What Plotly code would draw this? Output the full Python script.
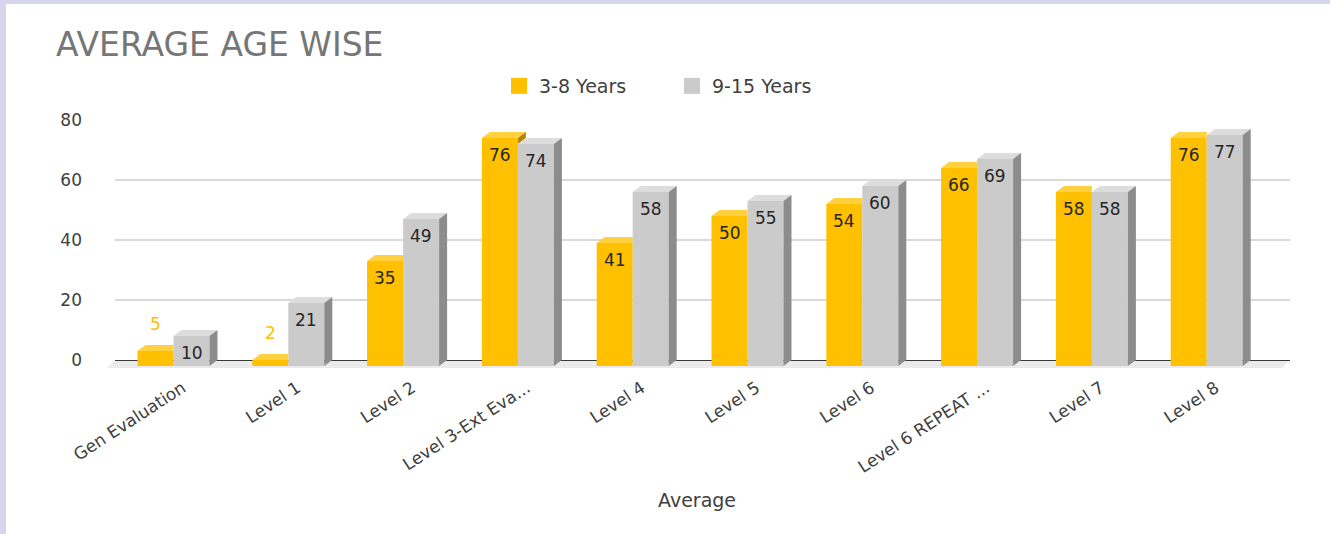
import plotly.graph_objects as go

# ---------------- data ----------------
categories = ["Gen Evaluation", "Level 1", "Level 2", "Level 3-Ext Eva...", "Level 4",
              "Level 5", "Level 6", "Level 6 REPEAT ...", "Level 7", "Level 8"]
series_names = ["3-8 Years", "9-15 Years"]
young = [5, 2, 35, 76, 41, 50, 54, 66, 58, 76]
older = [10, 21, 49, 74, 58, 55, 60, 69, 58, 77]
y_ticks = [0, 20, 40, 60, 80]

# ---------------- style / geometry ----------------
W, H = 1330, 534
PL, PR, PT, PB = 115, 1290, 120, 366          # plot area in pixels
X0PX, XSTEP = 173.5, 114.8                     # pixel of category 0, pixels per category
PXY = 3.0                                      # pixels per y unit
BW = 36 / XSTEP                                # bar width (x units)
D = 8 / XSTEP                                  # 3D depth (x units)
O = 6 / PXY                                    # 3D depth (y units)
YMAX = (PB - PT) / PXY

FONT = "DejaVu Sans"
TXT = "#404040"
Y_FRONT, Y_TOP, Y_SIDE = "#FFC000", "#FFD040", "#B38600"
G_FRONT, G_TOP, G_SIDE = "#CBCBCB", "#DDDDDD", "#8C8C8C"

idx = list(range(len(categories)))


def px_x(p):
    return (p - PL) / (PR - PL)


def px_y(p):
    return (PB - p) / (PB - PT)


fig = go.Figure()

# front faces (real bars)
fig.add_trace(go.Bar(x=idx, y=young, width=BW, offset=-BW, marker=dict(color=Y_FRONT, line=dict(width=0)),
                     yaxis="y2", showlegend=False, name=series_names[0]))
fig.add_trace(go.Bar(x=idx, y=older, width=BW, offset=0, marker=dict(color=G_FRONT, line=dict(width=0)),
                     yaxis="y2", showlegend=False, name=series_names[1]))


def poly_trace(polys, color):
    xs, ys = [], []
    for p in polys:
        for (a, b) in p:
            xs.append(a)
            ys.append(b)
        xs.append(p[0][0])
        ys.append(p[0][1])
        xs.append(None)
        ys.append(None)
    return go.Scatter(x=xs, y=ys, mode="lines", line=dict(width=0, color=color), fill="toself",
                      fillcolor=color, hoverinfo="skip", showlegend=False, yaxis="y2")


y_top, y_side, g_top, g_side = [], [], [], []
for i, v, g in zip(idx, young, older):
    x0, x1 = i - BW, i
    x2 = x1 + BW
    if v > g:
        y_top.append([(x0, v), (x1, v), (x1 + D, v + O), (x0 + D, v + O)])
        y_side.append([(x1, g), (x1, v), (x1 + D, v + O), (x1 + D, g + O)])
    else:
        y_top.append([(x0, v), (x1, v), (x1, v + O), (x0 + D, v + O)])
    g_top.append([(x1, g), (x2, g), (x2 + D, g + O), (x1 + D, g + O)])
    g_side.append([(x2, 0), (x2, g), (x2 + D, g + O), (x2 + D, O)])

fig.add_trace(poly_trace(y_top, Y_TOP))
if y_side:
    fig.add_trace(poly_trace(y_side, Y_SIDE))
fig.add_trace(poly_trace(g_top, G_TOP))
fig.add_trace(poly_trace(g_side, G_SIDE))

# legend entries
for name, col in zip(series_names, [Y_FRONT, G_FRONT]):
    fig.add_trace(go.Scatter(x=[None], y=[None], mode="markers", name=name,
                             marker=dict(symbol="square", size=17, color=col)))

# data labels
ann = []
for vals, sign in ((young, -1), (older, 1)):
    for i, v in zip(idx, vals):
        cx = i + sign * BW / 2
        if v >= 8:
            ann.append(dict(x=cx, y=v, xref="x", yref="y2", text=str(v), showarrow=False,
                            yshift=-17, yanchor="middle", font=dict(family=FONT, size=17, color="#262626")))
        else:
            ann.append(dict(x=cx, y=v, xref="x", yref="y2", text=str(v), showarrow=False,
                            yshift=27, yanchor="middle", font=dict(family=FONT, size=17, color=Y_FRONT)))

# title and axis title
ann.append(dict(x=px_x(54), y=px_y(44), xref="paper", yref="paper", text="AVERAGE AGE WISE",
                showarrow=False, xanchor="left", yanchor="middle",
                font=dict(family=FONT, size=33, color="#767676")))
ann.append(dict(x=px_x(697), y=px_y(500), xref="paper", yref="paper", text="Average",
                showarrow=False, xanchor="center", yanchor="middle",
                font=dict(family=FONT, size=19, color=TXT)))

shapes = [
    # floor
    dict(type="path", xref="paper", yref="paper", layer="below", line=dict(width=0), fillcolor="#EBEBEB",
         path=f"M {px_x(107)},{px_y(368)} L {px_x(1282)},{px_y(368)} L {px_x(1290)},{px_y(360)} "
              f"L {px_x(115)},{px_y(360)} Z"),
    # frame strips
    dict(type="rect", xref="paper", yref="paper", layer="above", line=dict(width=0), fillcolor="#D6D7EC",
         x0=px_x(0), x1=px_x(6), y0=px_y(H), y1=px_y(0)),
    dict(type="rect", xref="paper", yref="paper", layer="above", line=dict(width=0), fillcolor="#D6D7EC",
         x0=px_x(0), x1=px_x(W), y0=px_y(4), y1=px_y(0)),
]

fig.update_layout(
    width=W, height=H,
    margin=dict(l=PL, r=W - PR, t=PT, b=H - PB, pad=0),
    paper_bgcolor="white", plot_bgcolor="rgba(0,0,0,0)",
    barmode="overlay",
    showlegend=True,
    legend=dict(orientation="h", x=px_x(499), y=px_y(86), xanchor="left", yanchor="middle",
                font=dict(family=FONT, size=19, color=TXT), bgcolor="rgba(0,0,0,0)",
                entrywidth=128, entrywidthmode="pixels"),
    xaxis=dict(range=[(PL - X0PX) / XSTEP, (PR - X0PX) / XSTEP], tickmode="array", tickvals=idx,
               ticktext=categories, tickangle=-33, showgrid=False, zeroline=False, showline=False,
               ticks="", ticklabelstandoff=8, ticklabelshift=9,
               tickfont=dict(family=FONT, size=17, color=TXT), fixedrange=True),
    yaxis=dict(range=[-O, YMAX - O], tickmode="array", tickvals=y_ticks, showgrid=True,
               gridcolor="#D9D9D9", gridwidth=1.5, zeroline=True, zerolinecolor="#3A3A3A",
               zerolinewidth=1.3, showline=False, ticks="", ticklabelstandoff=32,
               tickfont=dict(family=FONT, size=17, color=TXT), fixedrange=True),
    yaxis2=dict(range=[0, YMAX], overlaying="y", visible=False, fixedrange=True),
    annotations=ann,
    shapes=shapes,
)

fig.write_html("out.html", config={"displayModeBar": False},
               post_script="document.body.style.margin='0';")
